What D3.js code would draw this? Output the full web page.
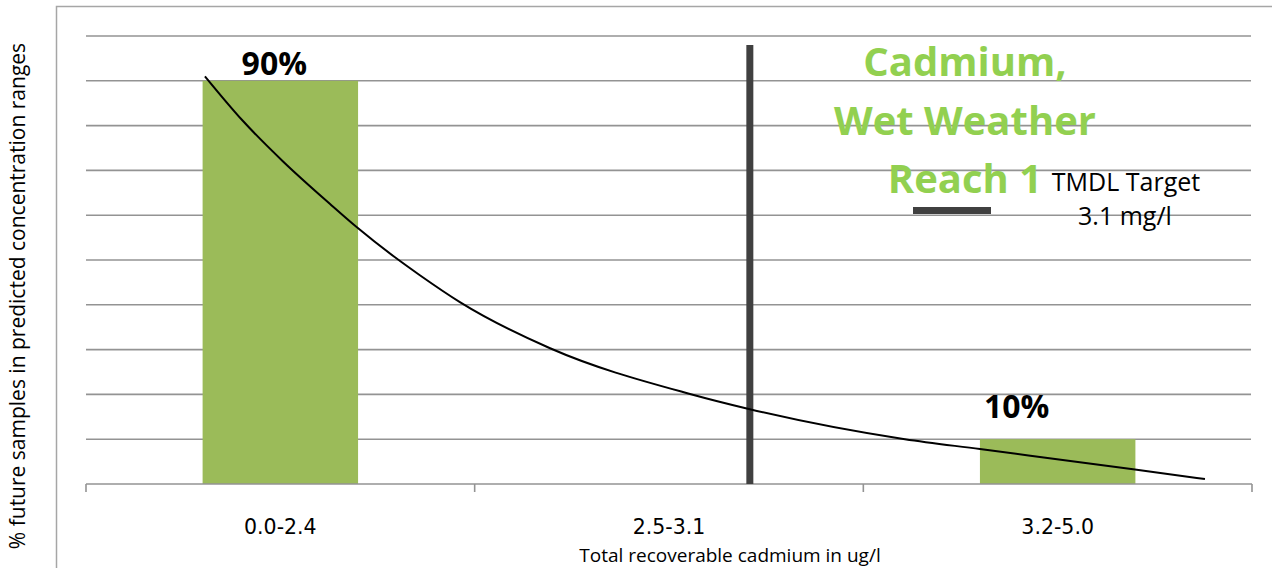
<!DOCTYPE html>
<html>
<head>
<meta charset="utf-8">
<script src="https://cdn.jsdelivr.net/npm/d3@7"></script>
<style>
  html, body { margin: 0; padding: 0; background: #fff; }
  svg { display: block; }
</style>
</head>
<body>
<svg id="chart" width="1272" height="568"></svg>
<script>
// ---- data ----
const categories = ["0.0-2.4", "2.5-3.1", "3.2-5.0"];
const values = [90, 0, 10];
const barLabels = ["90%", "", "10%"];
const yTicks = [0, 10, 20, 30, 40, 50, 60, 70, 80, 90, 100];
// fitted curve: position in category units (0 = first category centre), percent
const curvePos = [-0.194, -0.099, 0.007, 0.128, 0.197, 0.295, 0.359, 0.462, 0.694, 1.054, 1.208, 1.607, 1.800, 2.194, 2.379];
const curveVal = [91, 81.3, 72, 62.5, 57.3, 50.6, 46.6, 40.6, 30.3, 20.1, 16.7, 10, 7.8, 3.3, 1.1];
// TMDL target marker (position in category units, top in percent)
const tmdlPos = 1.208;
const tmdlTop = 98;
const titleLines = ["Cadmium,", "Wet Weather", "Reach 1"];
const legendLines = ["TMDL Target", "3.1 mg/l"];
const xTitle = "Total recoverable cadmium in ug/l";
const yTitle = "% future samples in predicted concentration ranges";

const FONT = "'Open Sans', 'Noto Sans', sans-serif";

// ---- layout ----
const svg = d3.select("#chart").attr("font-family", FONT);
const plot = { left: 86, right: 1252, top: 36, bottom: 484 };

const x = d3.scaleBand().domain(categories).range([plot.left, plot.right])
  .paddingInner(0.6).paddingOuter(0.3);
const y = d3.scaleLinear().domain([0, 100]).range([plot.bottom, plot.top]);
const xPos = d3.scaleLinear().domain([0, 2])
  .range([x(categories[0]) + x.bandwidth() / 2, x(categories[2]) + x.bandwidth() / 2]);

// outer frame
svg.append("path")
  .attr("d", `M56.5,568 V6.5 H1272`)
  .attr("fill", "none").attr("stroke", "#a6a6a6").attr("stroke-width", 1.5);

// gridlines
svg.append("g").selectAll("line").data(yTicks.filter(d => d > 0)).join("line")
  .attr("x1", plot.left).attr("x2", plot.right - 1)
  .attr("y1", d => y(d)).attr("y2", d => y(d))
  .attr("stroke", "#939393").attr("stroke-width", 1.6);

// bars
svg.append("g").selectAll("rect").data(categories.map((c, i) => ({ c, v: values[i] })).filter(d => d.v > 0))
  .join("rect")
  .attr("x", d => x(d.c)).attr("width", x.bandwidth())
  .attr("y", d => y(d.v)).attr("height", d => y(0) - y(d.v))
  .attr("fill", "#9bbb59");

// x axis
const xAxis = d3.axisBottom(x).tickSize(0).tickPadding(35);
const gx = svg.append("g").attr("transform", `translate(0,${plot.bottom})`).call(xAxis);
gx.select(".domain").remove();
gx.attr("font-family", "'DejaVu Sans', sans-serif").attr("font-size", 20.5);
gx.selectAll("text").attr("fill", "#000");
svg.append("line").attr("x1", plot.left).attr("x2", plot.right)
  .attr("y1", plot.bottom).attr("y2", plot.bottom)
  .attr("stroke", "#939393").attr("stroke-width", 1.6);
// category boundary ticks
svg.append("g").selectAll("line").data([0, 1, 2, 3]).join("line")
  .attr("x1", i => plot.left + i * (plot.right - plot.left) / 3)
  .attr("x2", i => plot.left + i * (plot.right - plot.left) / 3)
  .attr("y1", plot.bottom).attr("y2", plot.bottom + 8)
  .attr("stroke", "#939393").attr("stroke-width", 1.6);

// TMDL vertical line
svg.append("line")
  .attr("x1", xPos(tmdlPos)).attr("x2", xPos(tmdlPos))
  .attr("y1", y(tmdlTop)).attr("y2", y(0))
  .attr("stroke", "#404040").attr("stroke-width", 7);

// fitted curve
const pts = curvePos.map((p, i) => [xPos(p), y(curveVal[i])]);
svg.append("path")
  .attr("d", d3.line().curve(d3.curveMonotoneX)(pts))
  .attr("fill", "none").attr("stroke", "#000").attr("stroke-width", 2);

// bar labels
const labelOffsets = [{ dx: -6, dy: -6 }, { dx: 0, dy: 0 }, { dx: -41, dy: -21 }];
svg.append("g").selectAll("text").data(categories.map((c, i) => ({ c, v: values[i], l: barLabels[i], o: labelOffsets[i] })).filter(d => d.l))
  .join("text")
  .attr("x", d => x(d.c) + x.bandwidth() / 2 + d.o.dx)
  .attr("y", d => y(d.v) + d.o.dy)
  .attr("text-anchor", "middle")
  .attr("font-size", 32).attr("font-weight", "bold").attr("fill", "#000")
  .text(d => d.l);

// title
svg.append("g").selectAll("text").data(titleLines).join("text")
  .attr("x", 965).attr("y", (d, i) => 76 + i * 58.5)
  .attr("text-anchor", "middle")
  .attr("font-size", 40).attr("font-weight", "bold").attr("fill", "#92d050")
  .text(d => d);

// legend
svg.append("line").attr("x1", 913).attr("x2", 991).attr("y1", 210.5).attr("y2", 210.5)
  .attr("stroke", "#404040").attr("stroke-width", 7);
svg.append("text").attr("x", 1126).attr("y", 191).attr("text-anchor", "middle")
  .attr("font-size", 25).attr("fill", "#000").text(legendLines[0]);
svg.append("text").attr("x", 1125).attr("y", 225).attr("text-anchor", "middle")
  .attr("font-size", 25).attr("fill", "#000").text(legendLines[1]);

// axis titles
svg.append("text").attr("x", 730).attr("y", 562).attr("text-anchor", "middle")
  .attr("font-size", 19).attr("fill", "#000").text(xTitle);
svg.append("text").attr("transform", "translate(25,296) rotate(-90)")
  .attr("text-anchor", "middle")
  .attr("font-size", 21).attr("fill", "#000").text(yTitle);
</script>
</body>
</html>
